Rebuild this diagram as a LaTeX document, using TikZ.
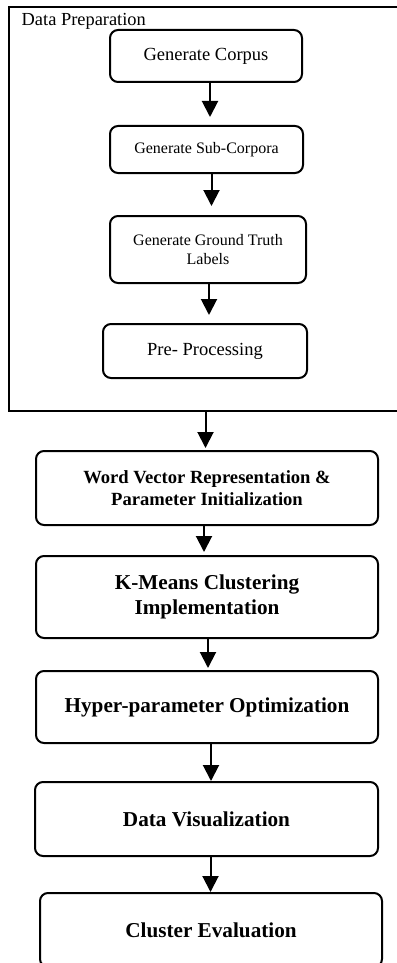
\documentclass[tikz,border=0pt]{standalone}
\usepackage{fontspec}
\setmainfont{Liberation Serif}
\usetikzlibrary{arrows.meta}
\tikzset{
  stepnode/.style = {draw, rounded corners=8pt, line width=2pt,
    align=center, inner sep=0pt},
  plain_n/.style = {stepnode, font=\fontsize{18.5}{22}\selectfont},% normal step
  small_n/.style = {stepnode, font=\fontsize{16}{19}\selectfont},% smaller text
  bold_n/.style = {stepnode, font=\fontsize{21.2}{25}\selectfont\bfseries},% main stage
  wide_n/.style = {stepnode, font=\fontsize{18.6}{22}\selectfont\bfseries},
  flow/.style = {->, line width=2pt}
}

\begin{document}
\begin{tikzpicture}[x=1pt, y=-1pt, >={Triangle[width=16pt,length=16pt]}]
\useasboundingbox (0,0) rectangle (396,963);

% data preparation frame
\node [draw, line width=2pt, minimum width=393, minimum height=404,
  inner sep=0pt] (prep) at (205.5,209) {};
\node [anchor=base west, inner sep=0pt,
  font=\fontsize{18.4}{22}\selectfont] (preplabel) at (21.5,26) {Data Preparation};

\node [plain_n, minimum width=192, minimum height=52] (corpus) at (206,56) {Generate Corpus};
\node [small_n, minimum width=193, minimum height=47] (subcorp) at (206.5,149.5) {Generate Sub-Corpora};
\node [small_n, minimum width=196, minimum height=67] (truth) at (208,249.5) {Generate Ground Truth\\Labels};
\node [plain_n, minimum width=204, minimum height=54] (preproc) at (205,351) {Pre- Processing};

% main pipeline
\node [wide_n, minimum width=342, minimum height=74] (wordvec) at (207,488)
  {Word Vector Representation \&\\Parameter Initialization};
\node [bold_n, minimum width=342, minimum height=82] (kmeans) at (207,597)
  {K-Means Clustering\\Implementation};
\node [bold_n, minimum width=342, minimum height=72] (hyper) at (207,707)
  {Hyper-parameter Optimization};
\node [bold_n, minimum width=343, minimum height=74] (datavis) at (206.5,819)
  {Data Visualization};
\node [bold_n, minimum width=342, minimum height=74] (clusteval) at (211,930)
  {Cluster Evaluation};

\draw [flow, shorten >=8pt] (corpus.south) ++(4,0) coordinate (cs) -- (cs |- subcorp.north);
\draw [flow, shorten >=9pt] (subcorp.south) ++(5,0) coordinate (ss) -- (ss |- truth.north);
\draw [flow, shorten >=8pt] (truth.south) ++(1,0) coordinate (ts) -- (ts |- preproc.north);
\draw [flow, shorten >=2pt] (prep.south) -- (prep.south |- wordvec.north);
\draw [flow, shorten >=3pt] (wordvec.south) ++(-3,0) coordinate (ws) -- (ws |- kmeans.north);
\draw [flow, shorten >=2pt] (kmeans.south) ++(1,0) coordinate (ks) -- (ks |- hyper.north);
\draw [flow] (hyper.south) ++(4,0) coordinate (hs) -- (hs |- datavis.north);
\draw [flow] (datavis.south) ++(4,0) coordinate (ds) -- (ds |- clusteval.north);
\end{tikzpicture}
\end{document}
